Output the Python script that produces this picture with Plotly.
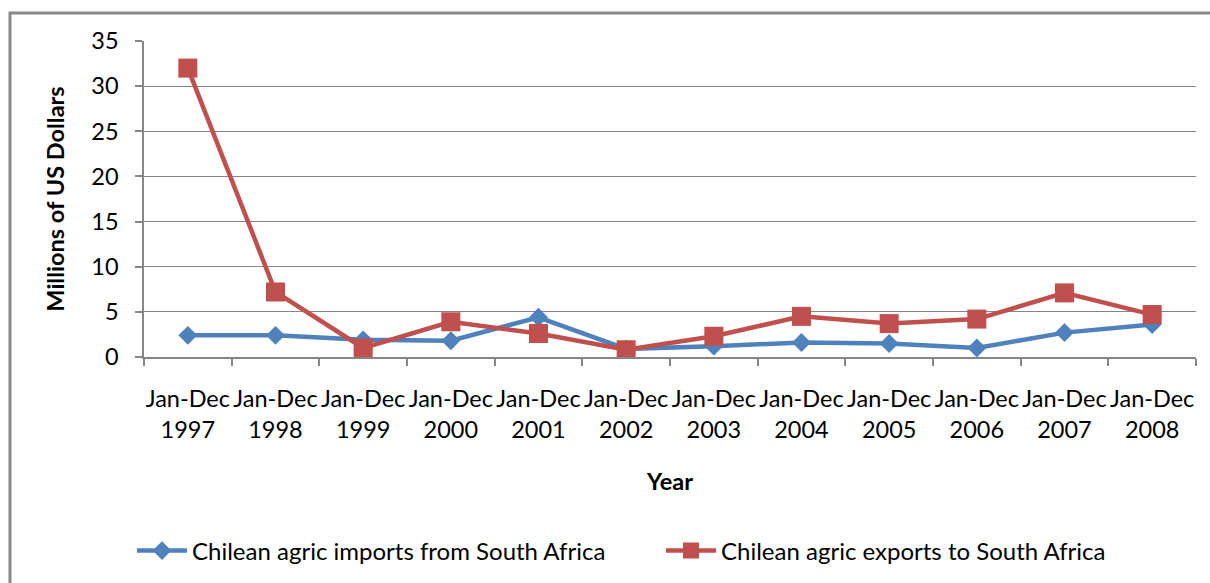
import plotly.graph_objects as go

years = ["1997", "1998", "1999", "2000", "2001", "2002", "2003", "2004", "2005", "2006", "2007", "2008"]
categories = ["Jan-Dec<br>" + y for y in years]
imports_sa = [2.4, 2.4, 1.9, 1.8, 4.4, 0.9, 1.2, 1.6, 1.5, 1.0, 2.7, 3.6]
exports_sa = [32.0, 7.2, 1.0, 3.9, 2.6, 0.8, 2.3, 4.5, 3.7, 4.2, 7.1, 4.7]
y_ticks = [0, 5, 10, 15, 20, 25, 30, 35]

FONT = "Lato"
BLUE = "#4F81BD"
RED = "#C0504D"
GRID = "#868686"

fig = go.Figure()
fig.add_trace(go.Scatter(
    x=categories, y=imports_sa, mode="lines+markers",
    name="Chilean agric imports from South Africa",
    line=dict(color=BLUE, width=4.5),
    marker=dict(symbol="diamond", size=14.5, color=BLUE),
))
fig.add_trace(go.Scatter(
    x=categories, y=exports_sa, mode="lines+markers",
    name="Chilean agric exports to South Africa",
    line=dict(color=RED, width=4.5),
    marker=dict(symbol="square", size=19, color=RED),
))

L, R, T, B = 144, 1196, 41, 357
W, H = 1210, 583
pw, ph = R - L, B - T

def px_x(px):
    return (px - L) / pw

def px_y(py):
    return (B - py) / ph

fig.update_layout(
    width=W, height=H,
    margin=dict(l=L, r=W - R, t=T, b=H - B, pad=0, autoexpand=False),
    paper_bgcolor="white", plot_bgcolor="white",
    font=dict(family=FONT, size=23.5, color="black"),
    showlegend=True,
    legend=dict(
        orientation="h", x=px_x(132), xanchor="left", y=px_y(551), yanchor="middle",
        font=dict(family=FONT, size=24, color="black"),
        entrywidth=464, entrywidthmode="pixels", itemwidth=50,
        bgcolor="rgba(0,0,0,0)",
    ),
    xaxis=dict(
        type="category", tickson="boundaries", ticks="outside", ticklen=7,
        tickcolor=GRID, tickwidth=1.5, tickangle=0, automargin=False,
        showline=True, linecolor=GRID, linewidth=1.5,
        showgrid=False, zeroline=False,
        tickfont=dict(family=FONT, size=23.5),
        ticklabelstandoff=20,
        title=dict(text="<b>Year</b>", font=dict(family=FONT, size=23.5), standoff=32),
        range=[-0.5, 11.5],
    ),
    yaxis=dict(
        range=[0, 35], tickvals=y_ticks, ticks="outside", ticklen=7,
        tickcolor=GRID, tickwidth=1.5, automargin=False,
        showline=True, linecolor=GRID, linewidth=1.5,
        showgrid=True, gridcolor=GRID, gridwidth=1.3,
        zeroline=False,
        tickfont=dict(family=FONT, size=23.5),
        ticklabelstandoff=12,
        title=dict(text="<b>Millions of US Dollars</b>", font=dict(family=FONT, size=23.5), standoff=20),
    ),
    shapes=[dict(
        type="rect", xref="paper", yref="paper",
        x0=px_x(10), x1=px_x(1216), y0=px_y(592), y1=px_y(13),
        line=dict(color="#898989", width=3), fillcolor="rgba(0,0,0,0)", layer="below",
    )],
)

fig.write_html("out.html")
